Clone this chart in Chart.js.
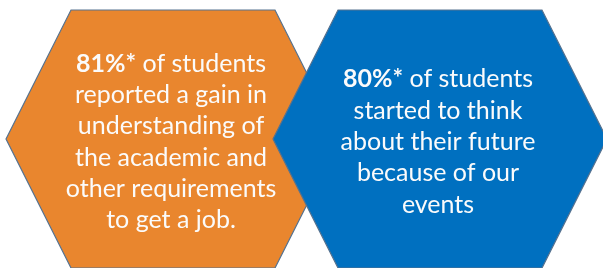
<!DOCTYPE html>
<html>
<head>
<meta charset="utf-8">
<script src="https://cdn.jsdelivr.net/npm/chart.js@4/dist/chart.umd.min.js"></script>
<style>
  html, body { margin: 0; padding: 0; background: #fff; }
  #wrap { width: 603px; height: 268px; position: relative; }
</style>
</head>
<body>
<div id="wrap"><canvas id="hexChart"></canvas></div>
<script>
// 데이터
const categories = ['Understanding of job requirements', 'Thinking about their future'];
const percentValues = [81, 80];
const restOfFirstLine = [' of students', ' of students'];
const bodyLines = [
    ['reported a gain in', 'understanding of', 'the academic and', 'other requirements', 'to get a job.'],
    ['started to think', 'about their future', 'because of our', 'events']
];
const hexColors = ['#E9862E', '#0070C0'];

// 육각형 + 텍스트 그리는 플러그인
const hexPlugin = {
    id: 'hexPlugin',
    afterDatasetsDraw(chart) {
        const ctx = chart.ctx;
        const meta = chart.getDatasetMeta(0);
        const area = chart.chartArea;
        const cy = (area.top + area.bottom) / 2;
        const hw = 167, tw = 102, hh = 129;

        ctx.save();
        meta.data.forEach((pt, i) => {
            const cx = pt.x;
            ctx.beginPath();
            ctx.moveTo(cx - hw, cy);
            ctx.lineTo(cx - tw, cy - hh);
            ctx.lineTo(cx + tw, cy - hh);
            ctx.lineTo(cx + hw, cy);
            ctx.lineTo(cx + tw, cy + hh);
            ctx.lineTo(cx - tw, cy + hh);
            ctx.closePath();
            ctx.fillStyle = hexColors[i];
            ctx.fill();
            ctx.lineWidth = 1.2;
            ctx.strokeStyle = '#56728f';
            ctx.stroke();
        });

        const size = 25, lh = 31.3;
        ctx.fillStyle = '#fbfbfb';
        ctx.textBaseline = 'alphabetic';
        meta.data.forEach((pt, i) => {
            const cx = pt.x - 2;
            const lines = bodyLines[i];
            const total = lines.length + 1;
            let y = cy - (total - 1) * lh / 2 + 11;

            // 첫 줄: 굵은 퍼센트 + 일반 텍스트
            const boldPart = percentValues[i] + '%*';
            ctx.font = 'bold ' + size + 'px Lato';
            const bw = ctx.measureText(boldPart).width;
            ctx.font = size + 'px Lato';
            const rw = ctx.measureText(restOfFirstLine[i]).width;
            let x0 = cx - (bw + rw) / 2;
            ctx.textAlign = 'left';
            ctx.font = 'bold ' + size + 'px Lato';
            ctx.fillText(boldPart, x0, y);
            ctx.font = size + 'px Lato';
            ctx.fillText(restOfFirstLine[i], x0 + bw, y);

            ctx.textAlign = 'center';
            lines.forEach(line => {
                y += lh;
                ctx.fillText(line, cx, y);
            });
        });
        ctx.restore();
    }
};

new Chart(document.getElementById('hexChart'), {
    type: 'line',
    data: {
        labels: categories,
        datasets: [{
            data: percentValues,
            showLine: false,
            pointRadius: 0
        }]
    },
    options: {
        responsive: true,
        maintainAspectRatio: false,
        animation: false,
        layout: { padding: { left: 173, right: 163, top: 10, bottom: 0 } },
        plugins: { legend: { display: false }, tooltip: { enabled: false } },
        scales: {
            x: { display: false, offset: false },
            y: { display: false, min: 0, max: 100 }
        }
    },
    plugins: [hexPlugin]
});
</script>
</body>
</html>
